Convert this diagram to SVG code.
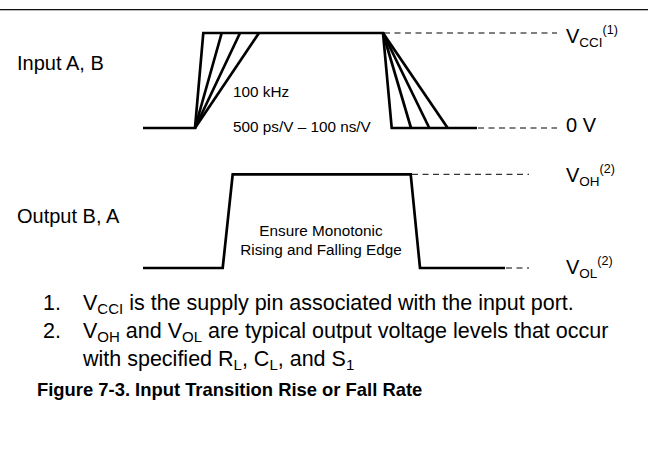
<svg xmlns="http://www.w3.org/2000/svg" width="648" height="470" viewBox="0 0 648 470">
<style>
.w{fill:none;stroke:#000;stroke-width:2.7;stroke-linejoin:miter;stroke-linecap:butt}
.d{fill:none;stroke:#000;stroke-width:1;stroke-dasharray:6 4.5}
text{font-family:"Liberation Sans",Arial,sans-serif;fill:#000}
.lbl{font-size:20px}
.sm{font-size:15.3px}
.note{font-size:21.5px}
.ttl{font-size:18.4px;font-weight:bold}
</style>
<rect width="648" height="470" fill="#fff"/>
<line x1="0" y1="9.5" x2="648" y2="9.5" stroke="#111" stroke-width="1"/>
<line x1="0" y1="10.5" x2="648" y2="10.5" stroke="#bbb" stroke-width="1"/>
<g id="input-waveform">
<polyline class="w" points="143,128 195,128 203.3,33 383,33 391.7,128 477,128"/>
<line class="w" x1="195" y1="128" x2="221.7" y2="33"/>
<line class="w" x1="195" y1="128" x2="240" y2="33"/>
<line class="w" x1="195" y1="128" x2="259" y2="33"/>
<line class="w" x1="383" y1="33" x2="411" y2="128"/>
<line class="w" x1="383" y1="33" x2="429.3" y2="128"/>
<line class="w" x1="383" y1="33" x2="447.7" y2="128"/>
</g>
<g id="output-waveform">
<polyline class="w" points="143,268 222.7,268 232.7,174.3 410.7,174.3 420,268 505,268"/>
</g>
<g id="connectors">
<line class="d" x1="384" y1="33" x2="557" y2="33"/>
<line class="d" x1="478" y1="128" x2="557" y2="128"/>
<line class="d" x1="412" y1="174.3" x2="529" y2="174.3"/>
<line class="d" x1="506" y1="268" x2="529" y2="268"/>
</g>
<g id="labels">
<text class="lbl" x="17" y="70">Input A, B</text>
<text class="lbl" x="17" y="223">Output B, A</text>
<text class="sm" x="233" y="97">100 kHz</text>
<text class="sm" x="233" y="131.5">500 ps/V – 100 ns/V</text>
<text class="sm" x="321" y="236" text-anchor="middle">Ensure Monotonic</text>
<text class="sm" x="321" y="255" text-anchor="middle">Rising and Falling Edge</text>
<text class="lbl" x="566" y="43">V<tspan font-size="13.5" dy="4">CCI</tspan><tspan font-size="12.5" dy="-13">(1)</tspan></text>
<text class="lbl" x="566" y="132">0 V</text>
<text class="lbl" x="566" y="181.7">V<tspan font-size="13.5" dy="4">OH</tspan><tspan font-size="12.5" dy="-13">(2)</tspan></text>
<text class="lbl" x="566" y="274">V<tspan font-size="13.5" dy="4">OL</tspan><tspan font-size="12.5" dy="-13">(2)</tspan></text>
</g>
<g id="notes">
<text class="note" x="43" y="310">1.</text>
<text class="note" x="83" y="310">V<tspan font-size="15" dy="4">CCI</tspan><tspan dy="-4"> is the supply pin associated with the input port.</tspan></text>
<text class="note" x="43" y="338">2.</text>
<text class="note" x="83" y="338">V<tspan font-size="15" dy="4">OH</tspan><tspan dy="-4"> and V</tspan><tspan font-size="15" dy="4">OL</tspan><tspan dy="-4"> are typical output voltage levels that occur</tspan></text>
<text class="note" x="83" y="366">with specified R<tspan font-size="15" dy="4">L</tspan><tspan dy="-4">, C</tspan><tspan font-size="15" dy="4">L</tspan><tspan dy="-4">, and S</tspan><tspan font-size="15" dy="4">1</tspan></text>
</g>
<text class="ttl" x="37" y="396">Figure 7-3. Input Transition Rise or Fall Rate</text>
</svg>
